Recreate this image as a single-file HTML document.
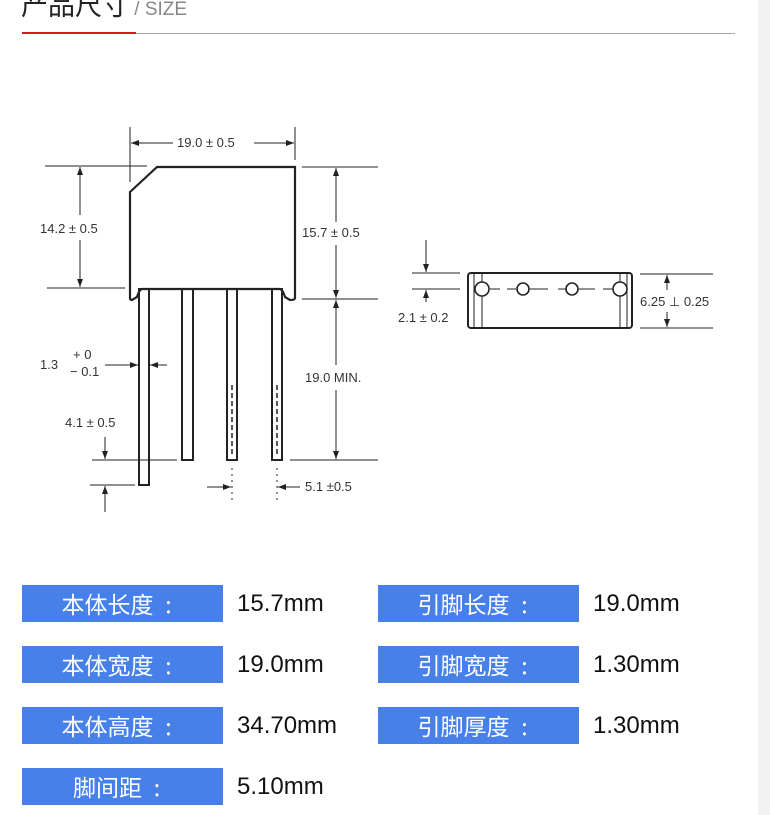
<!DOCTYPE html>
<html><head><meta charset="utf-8"><style>
html,body{margin:0;padding:0;background:#fff;width:770px;height:815px;overflow:hidden;position:relative;font-family:"Liberation Sans","Noto Sans CJK SC",sans-serif}
.sb{position:absolute;left:758px;top:0;width:12px;height:815px;background:#f1f1f1}
.b{position:absolute;width:201px;height:37px;background:#4680e8;color:#fff;font-size:23px;line-height:37px;text-align:center;font-family:"Noto Sans CJK SC",sans-serif}
.b span{display:inline-block;width:30px;text-align:center}
.v{position:absolute;font-size:24px;line-height:37px;color:#111}
svg{position:absolute;left:0;top:0}
svg text{font-family:"Liberation Sans",sans-serif;font-size:13px;fill:#333}
</style></head><body>
<div class="sb"></div>
<div style="position:absolute;left:21px;top:-14px;font-size:27px;color:#222;font-family:'Noto Sans CJK SC',sans-serif;line-height:36px">产品尺寸<span style="font-size:19px;color:#888;font-family:'Liberation Sans',sans-serif"> / SIZE</span></div>
<div style="position:absolute;left:22px;top:33px;width:713px;height:1px;background:#aaa"></div>
<div style="position:absolute;left:22px;top:32px;width:114px;height:2px;background:#e0141e"></div>
<svg width="770" height="815" viewBox="0 0 770 815">
<defs><marker id="a" markerWidth="8" markerHeight="6" refX="8" refY="3" orient="auto"><path d="M0,0L8,3L0,6z" fill="#222"/></marker></defs>
<g stroke="#222" fill="none" stroke-width="1">
<path d="M130,192 L157,167 L295,167 L295,298 Q295,300 290,300 L285,297 Q283,290 280,289 L142,289 Q139,290 137,297 L132,300 Q130,300 130,298 Z" stroke-width="2.2"/>
<rect x="139" y="289" width="10" height="196" stroke-width="2"/>
<rect x="182" y="289" width="11" height="171" stroke-width="2"/>
<rect x="227" y="289" width="10" height="171" stroke-width="2"/>
<rect x="272" y="289" width="10" height="171" stroke-width="2"/>
<line x1="232" y1="385" x2="232" y2="456" stroke-dasharray="5,3" stroke-width="1.5"/>
<line x1="277" y1="385" x2="277" y2="456" stroke-dasharray="5,3" stroke-width="1.5"/>
<line x1="130" y1="127" x2="130" y2="182"/><line x1="295" y1="127" x2="295" y2="160"/>
<line x1="173" y1="143" x2="131" y2="143" marker-end="url(#a)"/>
<line x1="254" y1="143" x2="294" y2="143" marker-end="url(#a)"/>
<line x1="45" y1="166" x2="147" y2="166"/><line x1="47" y1="288" x2="125" y2="288"/>
<line x1="80" y1="215" x2="80" y2="167" marker-end="url(#a)"/>
<line x1="80" y1="240" x2="80" y2="287" marker-end="url(#a)"/>
<line x1="302" y1="167" x2="378" y2="167"/><line x1="302" y1="299" x2="378" y2="299"/><line x1="290" y1="460" x2="378" y2="460"/>
<line x1="336" y1="222" x2="336" y2="168" marker-end="url(#a)"/>
<line x1="336" y1="245" x2="336" y2="298" marker-end="url(#a)"/>
<line x1="336" y1="365" x2="336" y2="300" marker-end="url(#a)"/>
<line x1="336" y1="390" x2="336" y2="459" marker-end="url(#a)"/>
<line x1="105" y1="365" x2="138" y2="365" marker-end="url(#a)"/>
<line x1="167" y1="365" x2="150" y2="365" marker-end="url(#a)"/>
<line x1="92" y1="460" x2="177" y2="460"/><line x1="90" y1="485" x2="135" y2="485"/>
<line x1="105" y1="437" x2="105" y2="459" marker-end="url(#a)"/>
<line x1="105" y1="512" x2="105" y2="486" marker-end="url(#a)"/>
<line x1="232" y1="468" x2="232" y2="500" stroke-dasharray="2,4"/>
<line x1="277" y1="468" x2="277" y2="500" stroke-dasharray="2,4"/>
<line x1="207" y1="487" x2="231" y2="487" marker-end="url(#a)"/>
<line x1="300" y1="487" x2="278" y2="487" marker-end="url(#a)"/>
<rect x="468" y="273" width="164" height="55" rx="3" stroke-width="2"/>
<line x1="474" y1="274" x2="474" y2="327"/><line x1="482" y1="274" x2="482" y2="327"/>
<line x1="620" y1="274" x2="620" y2="327"/><line x1="627" y1="274" x2="627" y2="327"/>
<line x1="490" y1="289" x2="500" y2="289"/><line x1="507" y1="289" x2="516" y2="289"/><line x1="530" y1="289" x2="548" y2="289"/>
<line x1="558" y1="289" x2="566" y2="289"/><line x1="579" y1="289" x2="595" y2="289"/><line x1="603" y1="289" x2="614" y2="289"/>
<circle cx="482" cy="289" r="7" fill="#fff" stroke-width="1.6"/>
<circle cx="523" cy="289" r="6" fill="#fff" stroke-width="1.6"/>
<circle cx="572" cy="289" r="6" fill="#fff" stroke-width="1.6"/>
<circle cx="620" cy="289" r="7" fill="#fff" stroke-width="1.6"/>
<line x1="412" y1="273" x2="460" y2="273"/><line x1="412" y1="289" x2="460" y2="289"/>
<line x1="426" y1="240" x2="426" y2="272" marker-end="url(#a)"/>
<line x1="426" y1="302" x2="426" y2="290" marker-end="url(#a)"/>
<line x1="640" y1="274" x2="713" y2="274"/><line x1="640" y1="328" x2="713" y2="328"/>
<line x1="667" y1="290" x2="667" y2="275" marker-end="url(#a)"/>
<line x1="667" y1="312" x2="667" y2="327" marker-end="url(#a)"/>
</g>
<text x="177" y="147">19.0 ± 0.5</text>
<text x="40" y="233">14.2 ± 0.5</text>
<text x="302" y="237">15.7 ± 0.5</text>
<text x="305" y="382">19.0 MIN.</text>
<text x="40" y="369">1.3</text>
<text x="73" y="359" font-size="11">+ 0</text>
<text x="70" y="376" font-size="11">− 0.1</text>
<text x="65" y="427">4.1 ± 0.5</text>
<text x="305" y="491">5.1 ±0.5</text>
<text x="398" y="322">2.1 ± 0.2</text>
<text x="640" y="306">6.25 ⊥ 0.25</text>
</svg>
<div class="b" style="left:22px;top:585px">本体长度<span>:</span></div><div class="v" style="left:237px;top:585px">15.7mm</div>
<div class="b" style="left:378px;top:585px">引脚长度<span>:</span></div><div class="v" style="left:593px;top:585px">19.0mm</div>
<div class="b" style="left:22px;top:646px">本体宽度<span>:</span></div><div class="v" style="left:237px;top:646px">19.0mm</div>
<div class="b" style="left:378px;top:646px">引脚宽度<span>:</span></div><div class="v" style="left:593px;top:646px">1.30mm</div>
<div class="b" style="left:22px;top:707px">本体高度<span>:</span></div><div class="v" style="left:237px;top:707px">34.70mm</div>
<div class="b" style="left:378px;top:707px">引脚厚度<span>:</span></div><div class="v" style="left:593px;top:707px">1.30mm</div>
<div class="b" style="left:22px;top:768px">脚间距<span>:</span></div><div class="v" style="left:237px;top:768px">5.10mm</div>
</body></html>
